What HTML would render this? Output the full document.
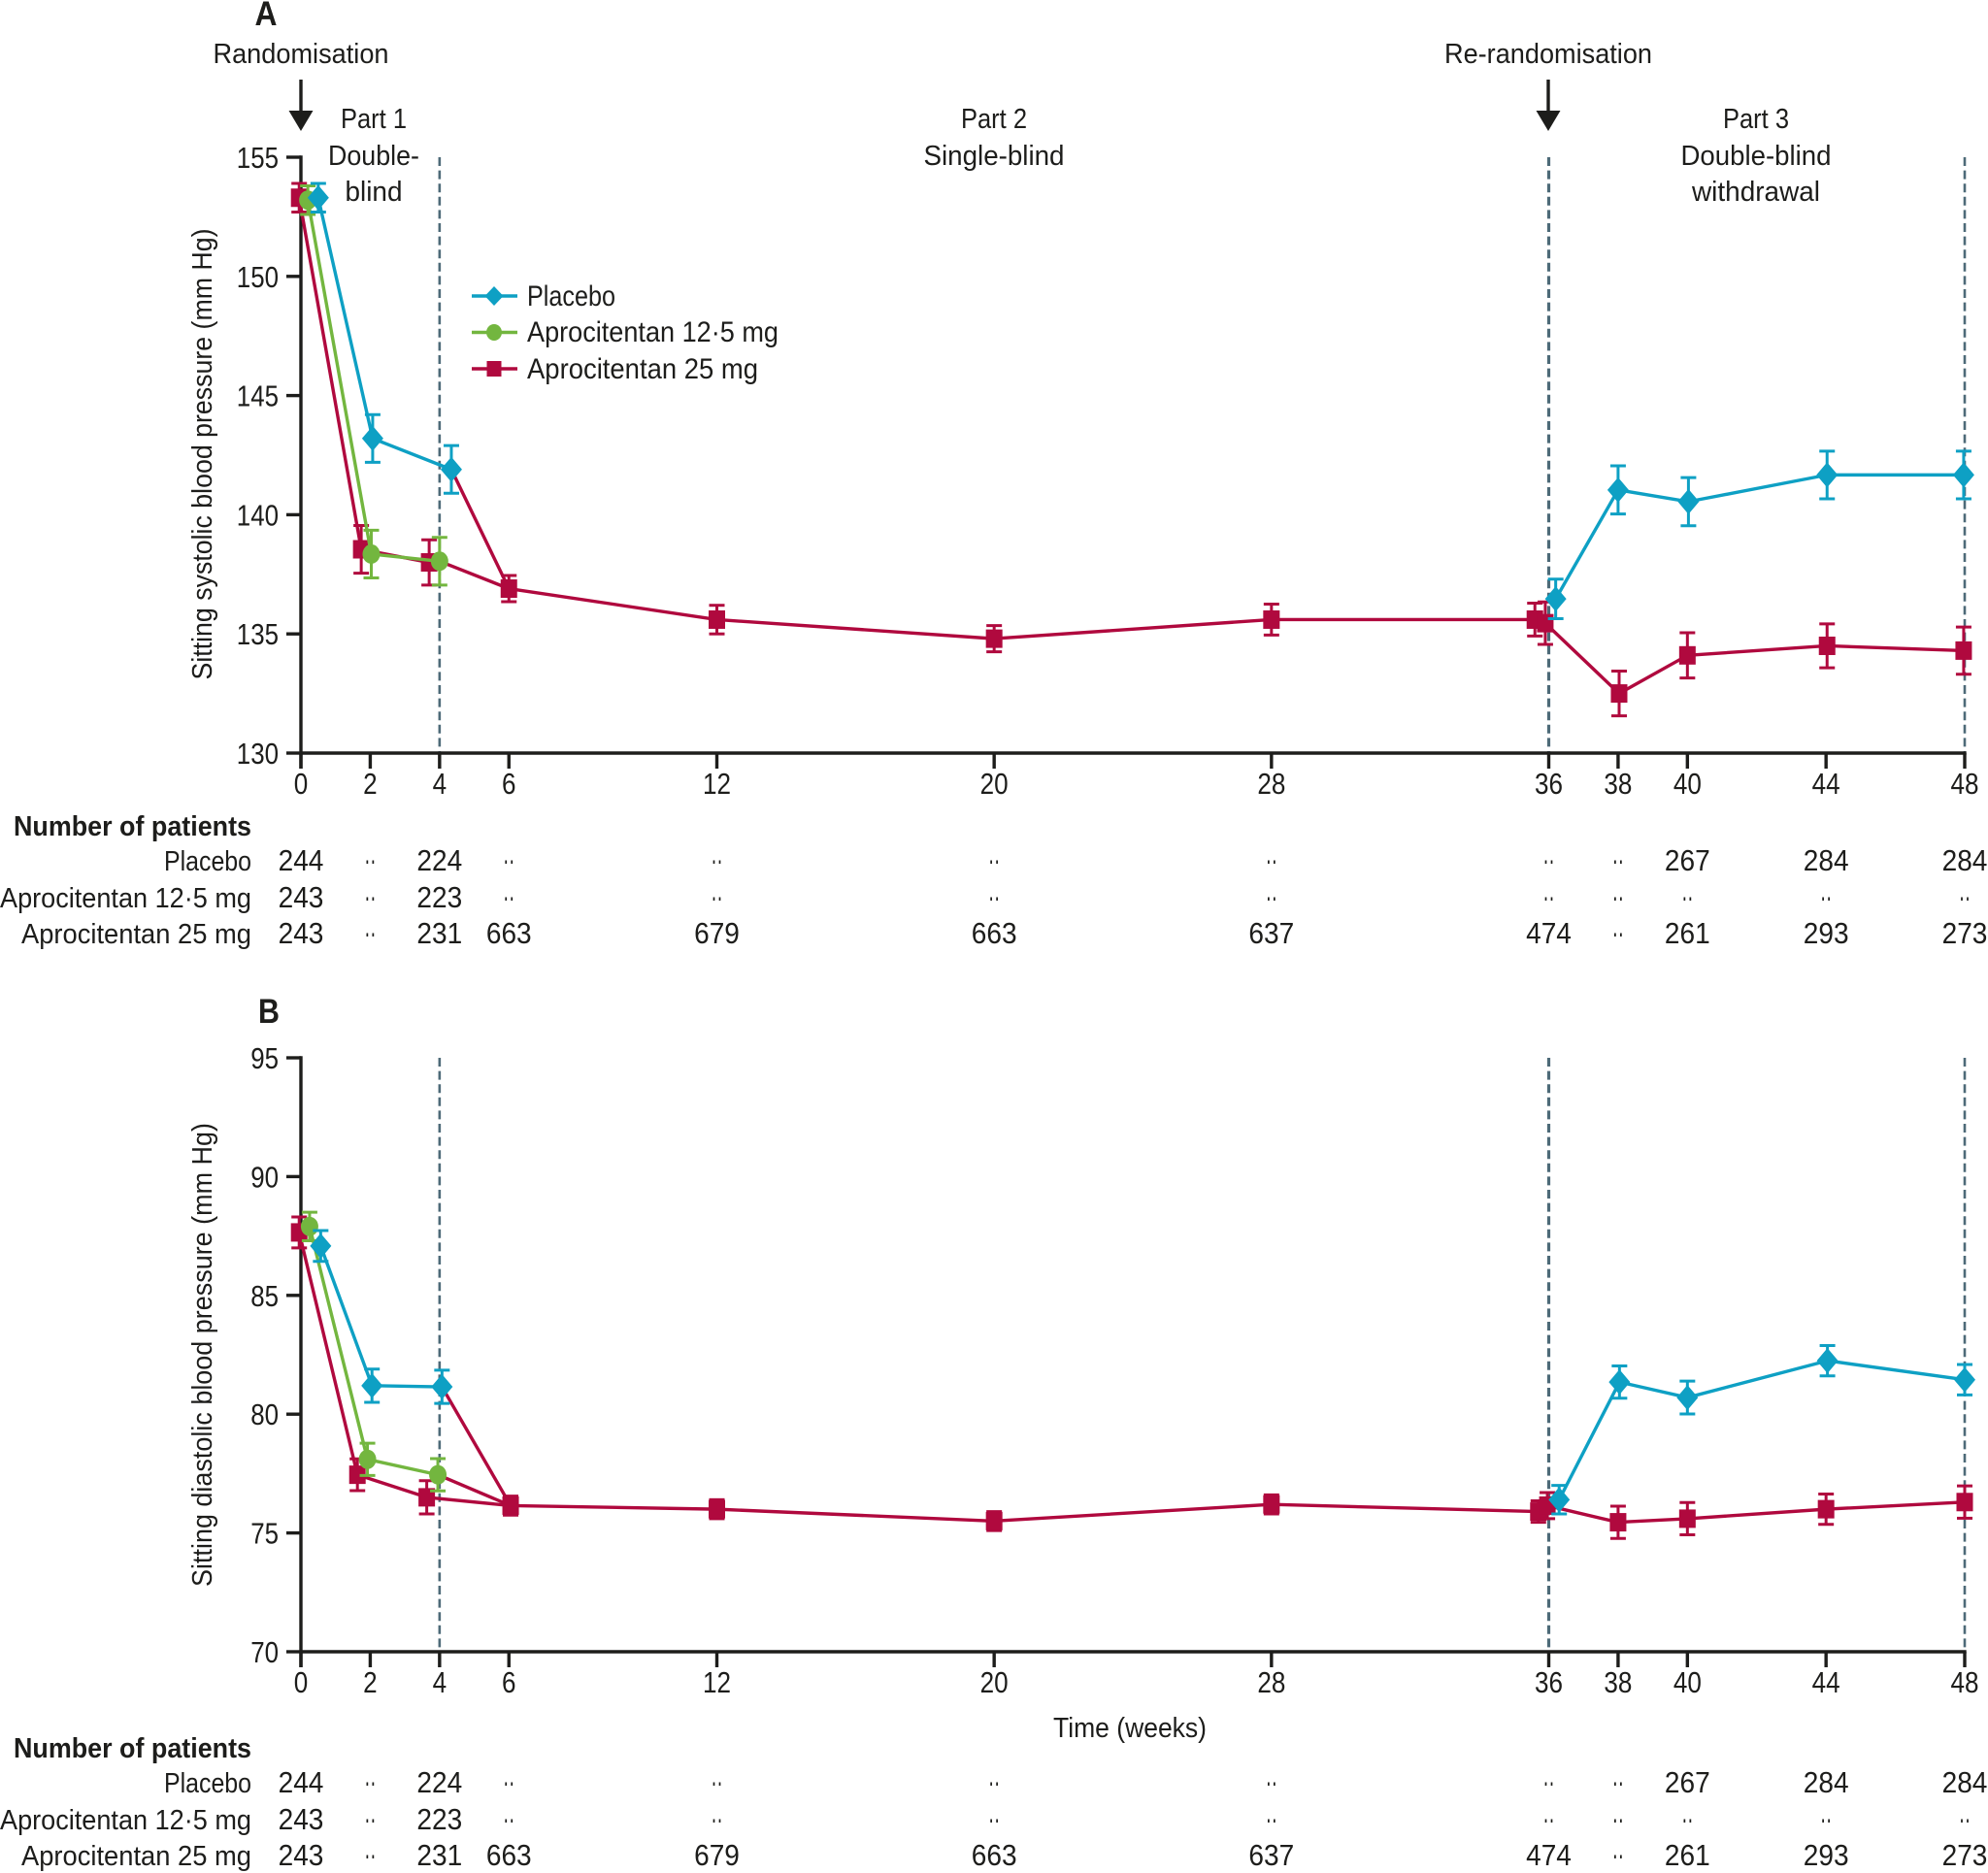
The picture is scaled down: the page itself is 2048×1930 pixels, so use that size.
<!DOCTYPE html>
<html lang="en">
<head>
<meta charset="utf-8">
<title>Sitting blood pressure over 48 weeks</title>
<style>
html,body{margin:0;padding:0;background:#fff;}
svg{display:block;}
text{font-family:"Liberation Sans",sans-serif;fill:#1d1d1b;}
</style>
</head>
<body>
<svg id="chart" xmlns="http://www.w3.org/2000/svg" width="2048" height="1930" viewBox="0 0 2048 1930">
  <rect width="2048" height="1930" fill="#fff"/>

  <text x="274" y="26" font-size="35" font-weight="bold" text-anchor="middle" textLength="23" lengthAdjust="spacingAndGlyphs">A</text>
  <text x="277" y="1054" font-size="35" font-weight="bold" text-anchor="middle" textLength="22" lengthAdjust="spacingAndGlyphs">B</text>

  <text x="310" y="65" font-size="28.500" text-anchor="middle" textLength="181" lengthAdjust="spacingAndGlyphs">Randomisation</text>
  <text x="1595" y="65" font-size="28.500" text-anchor="middle" textLength="214" lengthAdjust="spacingAndGlyphs">Re-randomisation</text>
  <g>
    <line x1="310" y1="82" x2="310" y2="116" stroke="#1d1d1b" stroke-width="3.400"/>
    <polygon points="297.500,114 322.500,114 310,135" fill="#1d1d1b"/>
  </g>
  <g>
    <line x1="1595" y1="82" x2="1595" y2="116" stroke="#1d1d1b" stroke-width="3.400"/>
    <polygon points="1582.500,114 1607.500,114 1595,135" fill="#1d1d1b"/>
  </g>

  <g font-size="28.500" text-anchor="middle">
    <text x="385" y="132" textLength="68" lengthAdjust="spacingAndGlyphs">Part 1</text>
    <text x="385" y="170" textLength="94" lengthAdjust="spacingAndGlyphs">Double-</text>
    <text x="385" y="207" textLength="59" lengthAdjust="spacingAndGlyphs">blind</text>
  </g>
  <g font-size="28.500" text-anchor="middle">
    <text x="1024" y="132" textLength="68" lengthAdjust="spacingAndGlyphs">Part 2</text>
    <text x="1024" y="170" textLength="145" lengthAdjust="spacingAndGlyphs">Single-blind</text>
  </g>
  <g font-size="28.500" text-anchor="middle">
    <text x="1809" y="132" textLength="68" lengthAdjust="spacingAndGlyphs">Part 3</text>
    <text x="1809" y="170" textLength="155" lengthAdjust="spacingAndGlyphs">Double-blind</text>
    <text x="1809" y="207" textLength="132" lengthAdjust="spacingAndGlyphs">withdrawal</text>
  </g>

  <text transform="translate(218,468) rotate(-90)" font-size="28.500" text-anchor="middle" textLength="465" lengthAdjust="spacingAndGlyphs">Sitting systolic blood pressure (mm Hg)</text>
  <text transform="translate(218,1396) rotate(-90)" font-size="28.500" text-anchor="middle" textLength="478" lengthAdjust="spacingAndGlyphs">Sitting diastolic blood pressure (mm Hg)</text>
  <text x="1164" y="1790" font-size="28.500" text-anchor="middle" textLength="158" lengthAdjust="spacingAndGlyphs">Time (weeks)</text>

  <g id="panel-a"></g>
  <g id="panel-b"></g>

  <g>
    <g>
      <line x1="486" y1="305" x2="533" y2="305" stroke="#0ea0c4" stroke-width="3.400"/>
      <polygon points="509,295 518.500,305 509,315 499.500,305" fill="#0ea0c4"/>
      <text x="543" y="315" font-size="30" textLength="91" lengthAdjust="spacingAndGlyphs">Placebo</text>
    </g>
    <g>
      <line x1="486" y1="342.500" x2="533" y2="342.500" stroke="#73b63f" stroke-width="3.400"/>
      <ellipse cx="509" cy="342.500" rx="8" ry="8.500" fill="#73b63f"/>
      <text x="543" y="352" font-size="30" textLength="259" lengthAdjust="spacingAndGlyphs">Aprocitentan 12·5 mg</text>
    </g>
    <g>
      <line x1="486" y1="380" x2="533" y2="380" stroke="#b0093e" stroke-width="3.400"/>
      <rect x="501.500" y="372" width="15" height="16" fill="#b0093e"/>
      <text x="543" y="390" font-size="30" textLength="238" lengthAdjust="spacingAndGlyphs">Aprocitentan 25 mg</text>
    </g>
  </g>

  <g font-size="29" text-anchor="end">
    <text x="259" y="861" font-weight="bold" textLength="245" lengthAdjust="spacingAndGlyphs">Number of patients</text>
    <text x="259" y="897" textLength="90" lengthAdjust="spacingAndGlyphs">Placebo</text>
    <text x="259" y="935" textLength="259" lengthAdjust="spacingAndGlyphs">Aprocitentan 12·5 mg</text>
    <text x="259" y="972" textLength="237" lengthAdjust="spacingAndGlyphs">Aprocitentan 25 mg</text>
  </g>
  <g font-size="29" text-anchor="end">
    <text x="259" y="1811" font-weight="bold" textLength="245" lengthAdjust="spacingAndGlyphs">Number of patients</text>
    <text x="259" y="1847" textLength="90" lengthAdjust="spacingAndGlyphs">Placebo</text>
    <text x="259" y="1885" textLength="259" lengthAdjust="spacingAndGlyphs">Aprocitentan 12·5 mg</text>
    <text x="259" y="1922" textLength="237" lengthAdjust="spacingAndGlyphs">Aprocitentan 25 mg</text>
  </g>
</svg>

<script>
// Shared categories and labels
var weekTicks = [0, 2, 4, 6, 12, 20, 28, 36, 38, 40, 44, 48];
var partBoundaryWeeks = [4, 36, 48];
var systolicTicks = [155, 150, 145, 140, 135, 130];
var diastolicTicks = [95, 90, 85, 80, 75, 70];
var patientsPlacebo = ['244', '··', '224', '··', '··', '··', '··', '··', '··', '267', '284', '284'];
var patients125 = ['243', '··', '223', '··', '··', '··', '··', '··', '··', '··', '··', '··'];
var patients25 = ['243', '··', '231', '663', '679', '663', '637', '474', '··', '261', '293', '273'];

// Panel A: systolic (plotted week, including the figure's horizontal dodge)
var sysPlaceboEarlyWeeks = [0.5, 2.07, 4.34];
var sysPlaceboEarlyValues = [153.3, 143.2, 141.9];
var sysPlaceboEarlyErrors = [0.6, 1.0, 1.0];
var sysPlaceboLateWeeks = [36.2, 38, 40.03, 44.03, 47.97];
var sysPlaceboLateValues = [136.47, 141.04, 140.55, 141.67, 141.67];
var sysPlaceboLateErrors = [0.83, 1.01, 1.01, 1.0, 1.0];
var sys125Weeks = [0.2, 2.03, 4.0];
var sys125Values = [153.2, 138.35, 138.05];
var sys125Errors = [0.6, 1.0, 1.0];
var sys25Weeks = [-0.05, 1.74, 3.7, 6, 12, 20, 28, 35.6, 35.9, 38.03, 40, 44.03, 47.97];
var sys25Values = [153.3, 138.55, 138.0, 136.9, 135.6, 134.8, 135.6, 135.6, 135.45, 132.5, 134.1, 134.5, 134.3];
var sys25Errors = [0.6, 1.0, 0.95, 0.55, 0.6, 0.55, 0.65, 0.69, 0.89, 0.94, 0.95, 0.92, 0.99];

// Panel B: diastolic
var diaPlaceboEarlyWeeks = [0.57, 2.05, 4.07];
var diaPlaceboEarlyValues = [87.08, 81.2, 81.15];
var diaPlaceboEarlyErrors = [0.65, 0.7, 0.7];
var diaPlaceboLateWeeks = [36.3, 38.04, 40, 44.04, 48];
var diaPlaceboLateValues = [76.4, 81.35, 80.7, 82.25, 81.45];
var diaPlaceboLateErrors = [0.6, 0.68, 0.69, 0.64, 0.64];
var dia125Weeks = [0.25, 1.92, 3.95];
var dia125Values = [87.9, 78.1, 77.45];
var dia125Errors = [0.6, 0.68, 0.68];
var dia25Weeks = [-0.05, 1.63, 3.63, 6.05, 12, 20, 28, 35.7, 35.96, 38, 40, 44, 48];
var dia25Values = [87.65, 77.45, 76.5, 76.15, 76.0, 75.5, 76.2, 75.9, 76.15, 75.45, 75.6, 76.0, 76.3];
var dia25Errors = [0.65, 0.67, 0.7, 0.4, 0.4, 0.4, 0.4, 0.45, 0.55, 0.68, 0.68, 0.64, 0.68];

var SVG_NS = 'http://www.w3.org/2000/svg';
var INK = '#1d1d1b', BLUE = '#0ea0c4', GREEN = '#73b63f', RED = '#b0093e', DASH = '#4d6a78';
var X0 = 310, X48 = 2024;
var LINE_W = 3.4;

function xScale(week) {
  return X0 + (week - 0) * (X48 - X0) / 48;
}
function makeYScale(vTop, vBottom, pTop, pBottom) {
  return function (v) {
    return pTop + (vTop - v) * (pBottom - pTop) / (vTop - vBottom);
  };
}
function make(parent, tag, attrs) {
  var el = document.createElementNS(SVG_NS, tag);
  for (var k in attrs) el.setAttribute(k, attrs[k]);
  parent.appendChild(el);
  return el;
}
function seg(parent, x1, y1, x2, y2, color, width) {
  return make(parent, 'line', { x1: x1, y1: y1, x2: x2, y2: y2, stroke: color, 'stroke-width': width });
}
function drawMarker(parent, shape, color, cx, cy) {
  if (shape === 'diamond') {
    return make(parent, 'polygon', {
      points: cx + ',' + (cy - 13) + ' ' + (cx + 11) + ',' + cy + ' ' + cx + ',' + (cy + 13) + ' ' + (cx - 11) + ',' + cy,
      fill: color
    });
  }
  if (shape === 'circle') {
    return make(parent, 'ellipse', { cx: cx, cy: cy, rx: 9, ry: 10, fill: color });
  }
  return make(parent, 'rect', { x: cx - 8.5, y: cy - 9.5, width: 17, height: 19, fill: color });
}
function drawErrorBar(parent, color, x, yScale, v, e) {
  var g = make(parent, 'g', {});
  
  
  seg(g, x, yScale(v + e), x, yScale(v - e), color, 3);
  seg(g, x - 8, yScale(v + e), x + 8, yScale(v + e), color, 3);
  seg(g, x - 8, yScale(v - e), x + 8, yScale(v - e), color, 3);
}
function drawLine(parent, color, weeks, values, yScale, name) {
  var pts = weeks.map(function (w, i) { return xScale(w) + ',' + yScale(values[i]); }).join(' ');
  var line = make(parent, 'polyline', { points: pts, fill: 'none', stroke: color, 'stroke-width': LINE_W, 'stroke-linejoin': 'round' });
  
  
}
function drawPoints(parent, shape, color, weeks, values, errors, yScale, name) {
  weeks.forEach(function (w, i) {
    drawErrorBar(parent, color, xScale(w), yScale, values[i], errors[i]);
    var m = drawMarker(parent, shape, color, xScale(w), yScale(values[i]));
    
    
  });
}
function addText(parent, str, x, y, size, length) {
  var t = make(parent, 'text', { x: x, y: y, 'font-size': size, 'text-anchor': 'middle' });
  if (length) {
    t.setAttribute('textLength', length);
    t.setAttribute('lengthAdjust', 'spacingAndGlyphs');
  }
  t.textContent = str;
  return t;
}

function drawPanel(cfg) {
  var root = document.getElementById(cfg.id);
  var y = makeYScale(cfg.ticks[0], cfg.ticks[cfg.ticks.length - 1], cfg.top, cfg.bottom);

  partBoundaryWeeks.forEach(function (w) {
    var d = seg(root, xScale(w), cfg.top, xScale(w), cfg.bottom, DASH, w === 36 ? 3.2 : 2.6);
    d.setAttribute('stroke-dasharray', '9 4.6');
    
    
  });

  var axisY = seg(root, X0, cfg.top - 1.7, X0, cfg.bottom + 16, INK, 3.4);
  
  
  var axisX = seg(root, X0, cfg.bottom, X48 + 1.7, cfg.bottom, INK, 3.4);
  
  

  cfg.ticks.forEach(function (v) {
    var tick = seg(root, X0 - 15, y(v), X0, y(v), INK, 3.4);
    
    
    var s = String(v);
    var lab = addText(root, s, 287 - (s.length * 14.4) / 2, y(v) + 11, 31, s.length * 14.4);
    
    
  });

  weekTicks.forEach(function (w, i) {
    var tick = seg(root, xScale(w), cfg.bottom, xScale(w), cfg.bottom + 16, INK, 3.4);
    
    
    var s = String(w);
    var lab = addText(root, s, xScale(w), cfg.bottom + 42, 31, s.length * 14.5);
    
    
    [patientsPlacebo, patients125, patients25].forEach(function (row, r) {
      var cell = row[i];
      var isBlank = cell === '··';
      var c = addText(root, cell, xScale(w), cfg.rowBase[r], isBlank ? 32 : 31, isBlank ? 12 : cell.length * 15.6);
      
      
    });
  });

  var s = cfg.series;
  var gx = s.greenW.length - 1;
  if (cfg.mergeViaGreen) {
    // Panel A: the 25 mg line runs through the 12.5 mg week-4 point on its way to week 6
    drawLine(root, RED, s.redW.slice(0, 3).concat([s.greenW[gx]]).concat(s.redW.slice(3)),
      s.redV.slice(0, 3).concat([s.greenV[gx]]).concat(s.redV.slice(3)), y, 'line-aprocitentan-25');
  } else {
    drawLine(root, RED, s.redW, s.redV, y, 'line-aprocitentan-25');
    seg(root, xScale(s.greenW[gx]), y(s.greenV[gx]), xScale(s.redW[3]), y(s.redV[3]), RED, LINE_W);
  }
  seg(root, xScale(s.blueW[s.blueW.length - 1]), y(s.blueV[s.blueV.length - 1]), xScale(s.redW[3]), y(s.redV[3]), RED, LINE_W);
  drawPoints(root, 'square', RED, s.redW, s.redV, s.redE, y, 'point-aprocitentan-25');
  drawLine(root, GREEN, s.greenW, s.greenV, y, 'line-aprocitentan-12-5');
  drawPoints(root, 'circle', GREEN, s.greenW, s.greenV, s.greenE, y, 'point-aprocitentan-12-5');
  drawLine(root, BLUE, s.blueW, s.blueV, y, 'line-placebo-part-1');
  drawPoints(root, 'diamond', BLUE, s.blueW, s.blueV, s.blueE, y, 'point-placebo');
  drawLine(root, BLUE, s.blue2W, s.blue2V, y, 'line-placebo-part-3');
  drawPoints(root, 'diamond', BLUE, s.blue2W, s.blue2V, s.blue2E, y, 'point-placebo');
}

drawPanel({
  id: 'panel-a', ticks: systolicTicks, top: 162, bottom: 776, rowBase: [897, 935, 972], mergeViaGreen: true,
  series: {
    redW: sys25Weeks, redV: sys25Values, redE: sys25Errors,
    greenW: sys125Weeks, greenV: sys125Values, greenE: sys125Errors,
    blueW: sysPlaceboEarlyWeeks, blueV: sysPlaceboEarlyValues, blueE: sysPlaceboEarlyErrors,
    blue2W: sysPlaceboLateWeeks, blue2V: sysPlaceboLateValues, blue2E: sysPlaceboLateErrors
  }
});
drawPanel({
  id: 'panel-b', ticks: diastolicTicks, top: 1090, bottom: 1702, rowBase: [1847, 1885, 1922], mergeViaGreen: false,
  series: {
    redW: dia25Weeks, redV: dia25Values, redE: dia25Errors,
    greenW: dia125Weeks, greenV: dia125Values, greenE: dia125Errors,
    blueW: diaPlaceboEarlyWeeks, blueV: diaPlaceboEarlyValues, blueE: diaPlaceboEarlyErrors,
    blue2W: diaPlaceboLateWeeks, blue2V: diaPlaceboLateValues, blue2E: diaPlaceboLateErrors
  }
});
</script>
</body>
</html>
